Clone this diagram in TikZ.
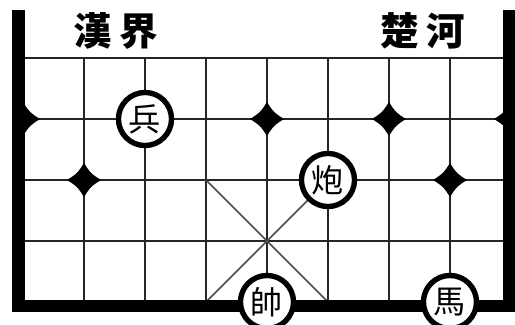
\documentclass[tikz,border=0pt]{standalone}
\usepackage{fontspec}
\newfontfamily\cjk{Noto Sans CJK TC}

\tikzset{
  qizi/.style={circle, draw, line width=2.5pt, fill=white, minimum size=0.87cm,
    inner sep=0pt, font=\cjk\fontsize{15}{15}\selectfont},
  hejie/.style={font=\cjk\bfseries\fontsize{18}{18}\selectfont},
  posmark/.pic={\fill (0.28,0) .. controls (0.13,0.09) and (0.09,0.13) .. (0,0.28)
    .. controls (-0.09,0.13) and (-0.13,0.09) .. (-0.28,0)
    .. controls (-0.13,-0.09) and (-0.09,-0.13) .. (0,-0.28)
    .. controls (0.09,-0.13) and (0.13,-0.09) .. (0.28,0) -- cycle;}
}

\begin{document}
\begin{tikzpicture}
  % 画面范围
  \useasboundingbox (-0.377,0.951) rectangle (8.066,-4.377);

  % --- 棋盘网格 ---
  \draw[line width=1.2pt, black!85] (0,0) grid (8,-4);

  % 九宫斜线
  \draw[line width=0.7pt, black!70] (3,-2) -- (5,-4);
  \draw[line width=0.7pt, black!70] (5,-2) -- (3,-4);

  % 兵位、炮位标记
  \begin{scope}
    \clip (-0.1,0.5) rectangle (8.2,-4.3);
    \pic at (0,-1) {posmark};
    \pic at (4,-1) {posmark};
    \pic at (6,-1) {posmark};
    \pic at (8,-1) {posmark};
    \pic at (1,-2) {posmark};
    \pic at (7,-2) {posmark};
  \end{scope}

  % 外框
  \draw[line width=6pt, line join=miter] (-0.08,0.787) -- (-0.08,-4.066)
    -- (7.98,-4.066) -- (7.98,0.787);

  % --- 河界文字 ---
  \node[hejie] (hanjie) at (1.525,0.443) {漢\hspace{3.7pt}界};
  \node[hejie] (chuhe) at (6.557,0.443) {楚\hspace{3.7pt}河};

  % --- 棋子 ---
  \node[qizi] (bing) at (2,-1) {兵};
  \node[qizi] (pao) at (5,-2) {炮};
  \node[qizi] (shuai) at (4,-4) {帥};
  \node[qizi] (ma) at (7,-4) {馬};
\end{tikzpicture}
\end{document}
